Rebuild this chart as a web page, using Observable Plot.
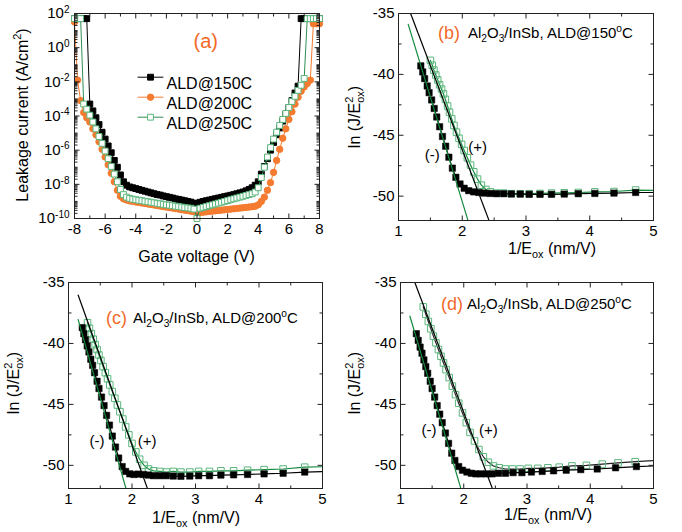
<!DOCTYPE html>
<html><head><meta charset="utf-8">
<script src="https://cdn.jsdelivr.net/npm/d3@7"></script>
<script src="https://cdn.jsdelivr.net/npm/@observablehq/plot@0.6"></script>
<style>
html,body{margin:0;padding:0;background:#fff;}
#wrap{position:relative;width:682px;height:532px;overflow:hidden;background:#fff;}
.panel{position:absolute;width:341px;height:266px;}
.panel svg{overflow:visible;display:block;}
</style></head>
<body><div id="wrap"></div>
<script>
// ================= DATA =================
// Panel (a): gate voltage (V) and log10 of leakage current density (A/cm^2)
const voltage = [
 -8.0,-7.8,-7.6,-7.4,-7.2,-7.0,-6.8,-6.6,-6.4,-6.2,
 -6.0,-5.8,-5.6,-5.4,-5.2,-5.0,-4.8,-4.6,-4.4,-4.2,
 -4.0,-3.8,-3.6,-3.4,-3.2,-3.0,-2.8,-2.6,-2.4,-2.2,
 -2.0,-1.8,-1.6,-1.4,-1.2,-1.0,-0.8,-0.6,-0.4,-0.2,
 0.0,
 0.2,0.4,0.6,0.8,1.0,1.2,1.4,1.6,1.8,2.0,
 2.2,2.4,2.6,2.8,3.0,3.2,3.4,3.6,3.8,4.0,
 4.2,4.4,4.6,4.8,5.0,5.2,5.4,5.6,5.8,6.0,
 6.2,6.4,6.6,6.8,7.0,7.2,7.4,7.6,7.8,8.0];
const logJ150 = [
 1.7,1.7,1.7,1.7,1.7,-3.3,-3.7,-4.1,-4.5,-4.95,
 -5.35,-5.75,-6.15,-6.6,-7.0,-7.45,-7.85,-8.05,-8.15,-8.2,
 -8.25,-8.3,-8.35,-8.4,-8.45,-8.5,-8.55,-8.6,-8.63,-8.68,
 -8.72,-8.76,-8.8,-8.85,-8.88,-8.92,-8.96,-9.0,-9.04,-9.1,
 -9.15,
 -9.05,-9.0,-8.96,-8.92,-8.88,-8.84,-8.8,-8.76,-8.72,-8.68,
 -8.64,-8.6,-8.55,-8.5,-8.45,-8.38,-8.3,-8.2,-8.05,-7.85,
 -7.4,-6.95,-6.5,-6.0,-5.55,-5.1,-4.7,-4.3,-3.9,-3.5,
 -3.1,-2.65,-2.25,1.7,1.7,1.7,1.7,1.7,1.7,1.7];
const logJ200 = [
 1.5,-1.9,-3.1,-3.8,-4.1,-4.35,-4.75,-5.1,-5.5,-5.95,
 -6.4,-6.85,-7.35,-7.85,-8.35,-8.7,-8.85,-8.92,-8.97,-9.0,
 -9.03,-9.06,-9.09,-9.12,-9.15,-9.18,-9.21,-9.24,-9.27,-9.3,
 -9.33,-9.36,-9.39,-9.42,-9.45,-9.48,-9.51,-9.54,-9.57,-9.6,
 -10.0,
 -9.65,-9.63,-9.61,-9.59,-9.57,-9.55,-9.53,-9.51,-9.49,-9.47,
 -9.45,-9.43,-9.41,-9.39,-9.37,-9.35,-9.33,-9.31,-9.28,-9.2,
 -9.0,-8.75,-8.35,-7.9,-7.3,-6.6,-5.95,-5.3,-4.75,-4.2,
 -3.75,-3.3,-2.9,-2.55,-2.3,-2.1,-1.9,1.4,1.4,1.4];
const logJ250 = [
 1.7,1.7,1.7,-3.3,-3.6,-3.95,-4.35,-4.75,-5.2,-5.6,
 -6.05,-6.5,-6.95,-7.4,-7.85,-8.3,-8.6,-8.75,-8.82,-8.87,
 -8.9,-8.93,-8.96,-8.99,-9.02,-9.05,-9.08,-9.11,-9.14,-9.17,
 -9.2,-9.22,-9.25,-9.28,-9.3,-9.33,-9.36,-9.38,-9.4,-9.45,
 -10.0,
 -9.4,-9.35,-9.3,-9.25,-9.2,-9.15,-9.1,-9.05,-9.0,-8.95,
 -8.9,-8.85,-8.8,-8.75,-8.7,-8.65,-8.6,-8.55,-8.45,-8.2,
 -7.6,-7.0,-6.4,-5.85,-5.35,-4.95,-4.55,-4.2,-3.85,-3.5,
 -3.15,-2.85,-2.5,-2.2,-1.8,1.7,1.7,1.7,1.7,1.7];
const seriesNames = ["ALD@150C","ALD@200C","ALD@250C"];
const xTicksA = [-8,-6,-4,-2,0,2,4,6,8];
const xMinorA = [-7,-5,-3,-1,1,3,5,7];
const yTicksA = [1e-10,1e-8,1e-6,1e-4,1e-2,1e0,1e2];

// Panels (b)-(d): 1/Eox (nm/V) and ln(J/Eox^2); (-) = negative bias, (+) = positive bias
const bNegX = [1.35,1.38,1.41,1.45,1.48,1.52,1.56,1.60,1.645,1.69,1.74,1.79,1.845,1.90,1.965,2.03,2.10,2.18,2.26,2.34,2.44,2.54,2.65,2.77,2.91,3.05,3.22,3.40,3.60,3.82,4.08,4.38,4.72,5.12];
const bNegY = [-39.3,-39.8,-40.35,-40.95,-41.5,-42.1,-42.8,-43.5,-44.3,-45.1,-45.9,-46.8,-47.7,-48.45,-49.0,-49.35,-49.55,-49.65,-49.7,-49.75,-49.78,-49.8,-49.8,-49.82,-49.83,-49.85,-49.85,-49.85,-49.83,-49.8,-49.78,-49.75,-49.7,-49.7];
const bPosX = [1.50,1.53,1.555,1.585,1.615,1.645,1.675,1.705,1.735,1.77,1.80,1.835,1.87,1.91,1.95,1.99,2.03,2.08,2.13,2.18,2.24,2.30,2.37,2.44,2.54,2.65,2.77,2.91,3.05,3.22,3.40,3.60,3.82,4.08,4.38,4.72,5.12];
const bPosY = [-38.85,-39.25,-39.65,-40.05,-40.45,-40.85,-41.2,-41.6,-42.05,-42.6,-43.1,-43.65,-44.2,-44.75,-45.25,-45.75,-46.25,-46.85,-47.45,-48.0,-48.6,-49.1,-49.45,-49.65,-49.75,-49.75,-49.8,-49.8,-49.8,-49.78,-49.75,-49.72,-49.7,-49.65,-49.62,-49.5,-49.55];
const bFitNeg = [1.15,-35.85,2.09,-52];
const bFitPos = [1.19,-35,2.42,-52];

const cNegX = [1.216,1.241,1.267,1.294,1.322,1.351,1.38,1.41,1.45,1.48,1.52,1.56,1.60,1.645,1.69,1.74,1.79,1.845,1.90,1.965,2.03,2.10,2.18,2.26,2.34,2.44,2.54,2.65,2.77,2.91,3.05,3.22,3.40,3.60,3.82,4.08,4.38,4.72,5.12];
const cNegY = [-38.7,-39.2,-39.7,-40.2,-40.7,-41.3,-41.8,-42.4,-43.1,-43.7,-44.4,-45.1,-45.9,-46.7,-47.6,-48.5,-49.4,-50.1,-50.5,-50.7,-50.75,-50.72,-50.75,-50.8,-50.85,-50.85,-50.85,-50.88,-50.9,-50.88,-50.85,-50.85,-50.8,-50.78,-50.75,-50.7,-50.65,-50.55,-50.5];
const cPosX = [1.30,1.33,1.36,1.39,1.42,1.45,1.48,1.51,1.545,1.58,1.615,1.65,1.69,1.73,1.77,1.81,1.855,1.90,1.95,2.00,2.06,2.12,2.19,2.26,2.34,2.44,2.54,2.65,2.77,2.91,3.05,3.22,3.40,3.60,3.82,4.08,4.38,4.72,5.12];
const cPosY = [-38.3,-38.75,-39.2,-39.65,-40.1,-40.5,-40.95,-41.4,-41.9,-42.4,-42.9,-43.4,-43.95,-44.5,-45.05,-45.6,-46.2,-46.85,-47.5,-48.2,-48.9,-49.5,-50.0,-50.3,-50.45,-50.5,-50.55,-50.5,-50.55,-50.55,-50.5,-50.5,-50.45,-50.45,-50.4,-50.35,-50.3,-50.15,-50.1];
const cFitNeg = [1.15,-38.0,1.91,-52];
const cFitPos = [1.15,-36.0,2.25,-52];

const dNegX = [1.25,1.28,1.31,1.34,1.37,1.40,1.43,1.47,1.50,1.54,1.58,1.62,1.66,1.71,1.76,1.81,1.86,1.92,1.98,2.05,2.12,2.19,2.27,2.36,2.45,2.55,2.66,2.78,2.92,3.07,3.24,3.42,3.62,3.85,4.11,4.40,4.73,5.12];
const dNegY = [-39.2,-39.75,-40.3,-40.8,-41.35,-41.9,-42.45,-43.1,-43.7,-44.4,-45.1,-45.8,-46.5,-47.35,-48.2,-49.0,-49.6,-50.1,-50.4,-50.55,-50.65,-50.7,-50.7,-50.7,-50.7,-50.65,-50.65,-50.6,-50.6,-50.55,-50.5,-50.45,-50.4,-50.35,-50.3,-50.2,-50.1,-50.03];
const dPosX = [1.36,1.40,1.44,1.48,1.52,1.56,1.60,1.64,1.68,1.72,1.77,1.82,1.87,1.92,1.98,2.04,2.10,2.17,2.24,2.31,2.39,2.47,2.56,2.66,2.77,2.89,3.02,3.17,3.33,3.51,3.71,3.94,4.19,4.44,4.71,5.10];
const dPosY = [-37.0,-37.6,-38.2,-38.8,-39.4,-39.95,-40.5,-41.05,-41.6,-42.15,-42.8,-43.5,-44.2,-44.9,-45.7,-46.5,-47.3,-48.0,-48.7,-49.3,-49.75,-50.05,-50.2,-50.3,-50.3,-50.3,-50.25,-50.25,-50.2,-50.15,-50.05,-50.0,-49.9,-49.8,-49.7,-49.58];
const dFitNeg = [1.147,-37.73,1.96,-52];
const dFitPos = [1.227,-35,2.46,-52];

const xTicksF = [1,2,3,4,5];
const xMinorF = [1.5,2.5,3.5,4.5];
const yTicksF = [-50,-45,-40,-35];
const yMinorF = [-47.5,-42.5,-37.5];
const biasLabels = ["(-)","(+)"];
const bNoteX = [1.53,2.24], bNoteY = [-46.6,-45.95];
const cNoteX = [1.45,2.24], cNoteY = [-48.0,-48.0];
const dNoteX = [1.45,2.39], dNoteY = [-47.15,-47.15];

// ================= STYLE / HELPERS =================
const FONT = "'Liberation Sans', Arial, Helvetica, sans-serif";
const ORANGE = "#f47b2f";
const TITLE_ORANGE = "#f26a2a";
const GREEN_LINE = "#138a3e";
const GREEN_MARK = "#5bb67c";
const AXIS = "#222";
const wrap = document.getElementById("wrap");

const lineShape = { draw(ctx, l) { ctx.moveTo(0, 0); ctx.lineTo(0, -l); } };

function frameTicks(xMaj, xMin, yMaj, yMin) {
  const o = {stroke: AXIS, strokeWidth: 1, shape: lineShape, anchor: "start", strokeLinecap: "butt"};
  const m = [];
  for (const [vals, len] of [[xMaj, 5], [xMin, 3]]) {
    m.push(Plot.vector(vals, {...o, x: d => d, frameAnchor: "bottom", rotate: 0, length: len}));
    m.push(Plot.vector(vals, {...o, x: d => d, frameAnchor: "top", rotate: 180, length: len}));
  }
  for (const [vals, len] of [[yMaj, 5], [yMin, 3]]) {
    m.push(Plot.vector(vals, {...o, y: d => d, frameAnchor: "left", rotate: 90, length: len}));
    m.push(Plot.vector(vals, {...o, y: d => d, frameAnchor: "right", rotate: -90, length: len}));
  }
  return m;
}

function rich(svg, parts, {x, y, size = 16, anchor = "start", rotate = false, fill = "#000"}) {
  const t = d3.select(svg).append("text")
    .attr("font-family", FONT).attr("font-size", size).attr("fill", fill)
    .attr("text-anchor", anchor);
  if (rotate) t.attr("transform", `translate(${x + 0.35 * size},${y}) rotate(-90)`);
  else t.attr("x", x).attr("y", y + 0.35 * size);
  let cur = 0;
  for (const p of parts) {
    const [s, kind, dx] = typeof p === "string" ? [p] : p;
    const target = kind === "sup" ? -0.42 * size : kind === "sub" ? 0.28 * size : 0;
    const ts = t.append("tspan").text(s).attr("dy", target - cur);
    if (kind) ts.attr("font-size", (size * 0.68).toFixed(1));
    if (dx) ts.attr("dx", dx);
    cur = target;
  }
  return t;
}

function mount(svg, left, top) {
  const div = document.createElement("div");
  div.className = "panel";
  div.style.left = left + "px";
  div.style.top = top + "px";
  div.appendChild(svg);
  wrap.appendChild(div);
}

const baseStyle = {fontFamily: FONT, fontSize: "15px", background: "transparent", overflow: "visible", color: "#000"};

// ================= PANEL (a) =================
(function () {
  const logs = [logJ150, logJ200, logJ250];
  const sty = [
    {line: "#000", symbol: "square", fill: "#000", stroke: "#000", r: 3.3},
    {line: ORANGE, symbol: "circle", fill: ORANGE, stroke: ORANGE, r: 3.2},
    {line: "#2f8f55", symbol: "square", fill: "#fff", stroke: GREEN_MARK, r: 3.3}
  ];
  const tables = seriesNames.map((n, k) => voltage.map((v, i) => ({name: n, V: v, J: Math.pow(10, logs[k][i])})));
  const minorY = [];
  for (let e = -10; e < 2; e++) for (let m = 2; m <= 9; m++) minorY.push(m * Math.pow(10, e));
  for (let e = -9; e <= 1; e += 2) minorY.push(Math.pow(10, e));
  const marks = [];
  tables.forEach((t, k) => {
    marks.push(Plot.line(t, {x: "V", y: "J", stroke: sty[k].line, strokeWidth: 1}));
    marks.push(Plot.dot(t, {x: "V", y: "J", symbol: sty[k].symbol, r: sty[k].r, fill: sty[k].fill, stroke: sty[k].stroke, strokeWidth: 1}));
  });
  seriesNames.forEach((n, k) => {
    const dy = 63.7 + 20 * k;
    marks.push(Plot.vector([n], {frameAnchor: "top-left", dx: 76, dy, rotate: 90, length: 25, anchor: "middle", shape: lineShape, stroke: sty[k].line, strokeWidth: 1}));
    marks.push(Plot.dot([n], {frameAnchor: "top-left", dx: 76, dy, symbol: sty[k].symbol, r: sty[k].r, fill: sty[k].fill, stroke: sty[k].stroke, strokeWidth: 1}));
    marks.push(Plot.text([n], {frameAnchor: "top-left", dx: 92, dy, text: d => d, textAnchor: "start", fontSize: 16, fill: "#000"}));
  });
  marks.push(Plot.text(["(a)"], {frameAnchor: "top-left", dx: 119, dy: 20, text: d => d, fill: TITLE_ORANGE, fontSize: 20}));
  marks.push(...frameTicks(xTicksA, xMinorA, yTicksA, minorY));
  marks.push(Plot.frame({stroke: AXIS, strokeWidth: 1}));
  marks.push(Plot.axisX({ticks: xTicksA, tickSize: 0, tickPadding: 5, tickFormat: d => String(d), label: null, fontSize: 15}));
  marks.push(Plot.axisY({ticks: yTicksA, tickSize: 0, tickPadding: 5, tickFormat: d => "10^" + Math.round(Math.log10(d)), label: null, fontSize: 15}));
  const svg = Plot.plot({
    width: 341, height: 266,
    marginLeft: 74, marginRight: 22, marginTop: 13, marginBottom: 48,
    style: baseStyle,
    x: {domain: [-8, 8]},
    y: {type: "log", domain: [1e-10, 1e2]},
    marks
  });
  d3.select(svg).selectAll('g[aria-label="y-axis tick label"] text').each(function () {
    const m = this.textContent.match(/^10\^(.*)$/);
    if (!m) return;
    const t = d3.select(this);
    t.text("");
    t.append("tspan").text("10");
    t.append("tspan").text(m[1]).attr("font-size", 10).attr("dy", "-0.55em");
  });
  rich(svg, ["Gate voltage (V)"], {x: 196.5, y: 256, size: 16, anchor: "middle"});
  rich(svg, ["Leakage current (A/cm", ["2", "sup"], ")"], {x: 22, y: 115, size: 16, anchor: "middle", rotate: true});
  mount(svg, 0, 0);
})();

// ================= PANELS (b)-(d) =================
function fnPanel(cfg) {
  const neg = cfg.negX.map((x, i) => ({x, y: cfg.negY[i]}));
  const pos = cfg.posX.map((x, i) => ({x, y: cfg.posY[i]}));
  const notes = biasLabels.map((t, i) => ({t, x: cfg.noteX[i], y: cfg.noteY[i]}));
  const lk = {x1: d => d[0], y1: d => d[1], x2: d => d[2], y2: d => d[3], strokeWidth: 1.2, clip: true};
  const marks = [
    Plot.line(pos, {x: "x", y: "y", stroke: cfg.posLine, strokeWidth: 1.2, clip: true}),
    Plot.dot(pos, {x: "x", y: "y", symbol: "square", r: 3.7, fill: "none", stroke: GREEN_MARK, strokeWidth: 1, clip: true}),
    Plot.line(neg, {x: "x", y: "y", stroke: "#000", strokeWidth: 1.2, clip: true}),
    Plot.dot(neg, {x: "x", y: "y", symbol: "square", r: 3.6, fill: "#000", stroke: "#000", strokeWidth: 0.5, clip: true}),
    Plot.link([cfg.fitNeg], {...lk, stroke: GREEN_LINE}),
    Plot.link([cfg.fitPos], {...lk, stroke: "#000"}),
    Plot.text(notes, {x: "x", y: "y", text: "t", fontSize: 15, fill: "#000"}),
    ...frameTicks(xTicksF, xMinorF, yTicksF, yMinorF),
    Plot.frame({stroke: AXIS, strokeWidth: 1}),
    Plot.axisX({ticks: xTicksF, tickSize: 0, tickPadding: 5, tickFormat: d => String(d), label: null, fontSize: 15}),
    Plot.axisY({ticks: yTicksF, tickSize: 0, tickPadding: 4, tickFormat: d => String(d), label: null, fontSize: 15})
  ];
  const svg = Plot.plot({
    width: 341, height: 266,
    marginLeft: cfg.ml, marginRight: cfg.mr, marginTop: cfg.mt, marginBottom: cfg.mb,
    style: baseStyle,
    x: {domain: [1, 5]},
    y: {domain: [cfg.yMin, -35]},
    marks
  });
  rich(svg, [cfg.tag], {x: cfg.tagX, y: cfg.titleY, size: 18, fill: TITLE_ORANGE});
  rich(svg, ["Al", ["2", "sub"], "O", ["3", "sub"], "/InSb, ALD@" + cfg.temp, ["o", "sup"], "C"], {x: cfg.titleX, y: cfg.titleY, size: 15});
  rich(svg, ["1/E", ["ox", "sub"], " (nm/V)"], {x: cfg.xlabX, y: cfg.xlabY, size: 16, anchor: "middle"});
  rich(svg, ["ln (J/E", ["2", "sup"], ["ox", "sub", -6], ")"], {x: 13, y: 117, size: 16, anchor: "middle", rotate: true});
  mount(svg, cfg.left, cfg.top);
}

fnPanel({negX: bNegX, negY: bNegY, posX: bPosX, posY: bPosY, fitNeg: bFitNeg, fitPos: bFitPos,
  noteX: bNoteX, noteY: bNoteY, posLine: GREEN_LINE, yMin: -52,
  ml: 57, mr: 29, mt: 13, mb: 46, left: 341, top: 0,
  tag: "(b)", tagX: 97, titleX: 127, titleY: 33, temp: "150", xlabX: 211, xlabY: 248});
fnPanel({negX: cNegX, negY: cNegY, posX: cPosX, posY: cPosY, fitNeg: cFitNeg, fitPos: cFitPos,
  noteX: cNoteX, noteY: cNoteY, posLine: GREEN_LINE, yMin: -51.9,
  ml: 68, mr: 19, mt: 16, mb: 44, left: 0, top: 266,
  tag: "(c)", tagX: 106, titleX: 133, titleY: 52, temp: "200", xlabX: 196, xlabY: 251});
fnPanel({negX: dNegX, negY: dNegY, posX: dPosX, posY: dPosY, fitNeg: dFitNeg, fitPos: dFitPos,
  noteX: dNoteX, noteY: dNoteY, posLine: "#222", yMin: -51.9,
  ml: 59, mr: 29, mt: 16, mb: 44, left: 341, top: 266,
  tag: "(d)", tagX: 100, titleX: 126, titleY: 38, temp: "250", xlabX: 207, xlabY: 248});
</script>
</body></html>
